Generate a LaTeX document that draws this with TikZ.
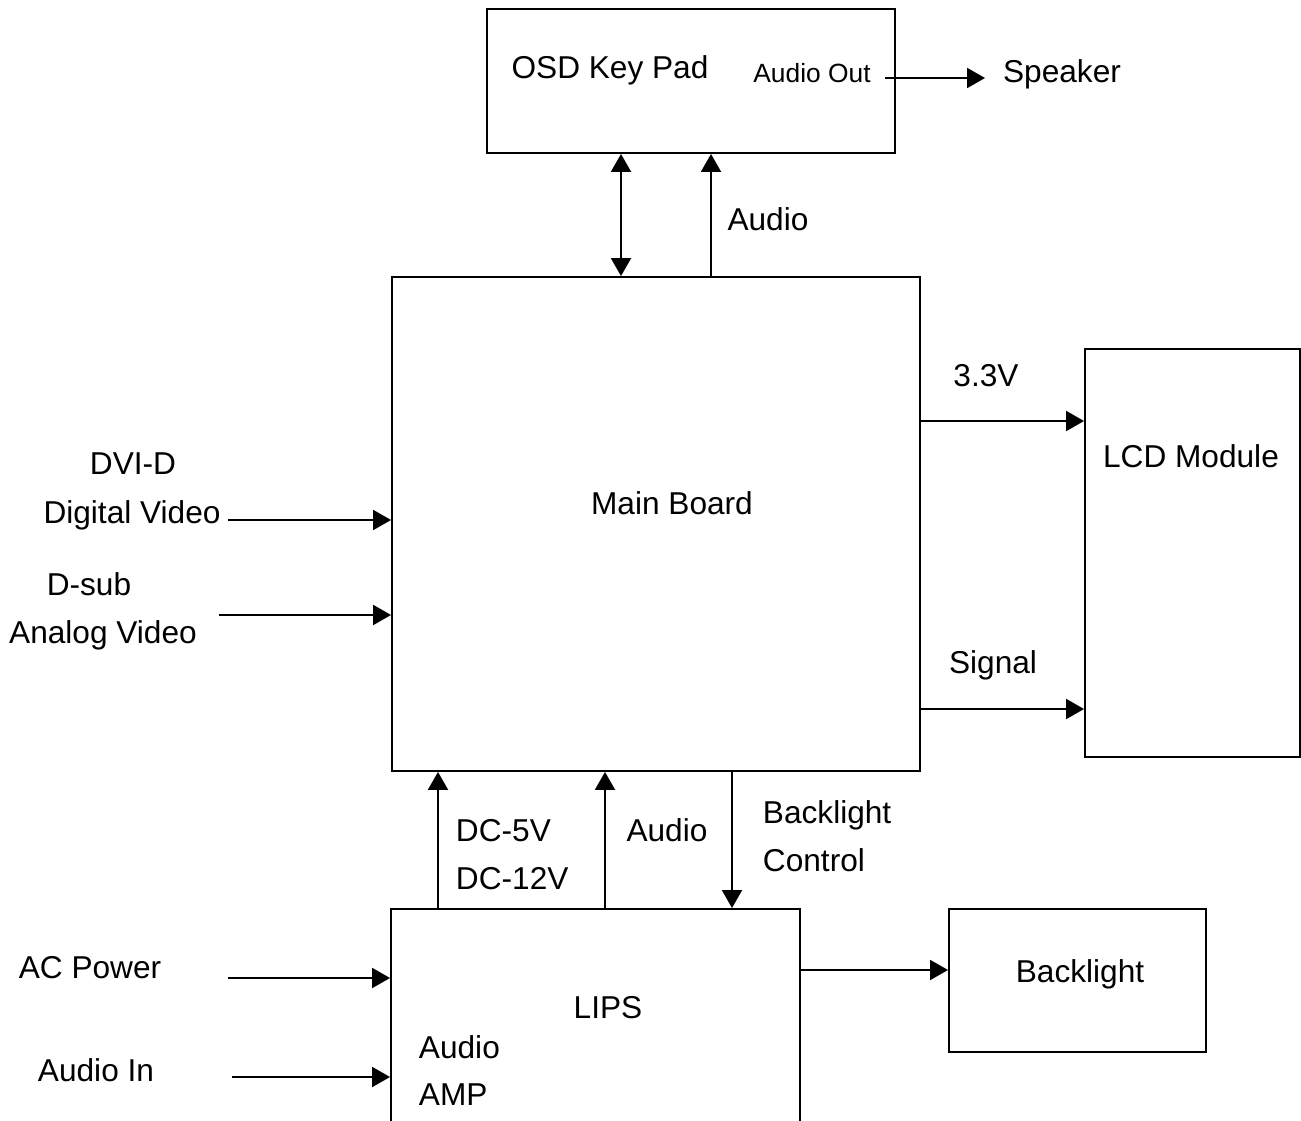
\documentclass[tikz,border=0pt]{standalone}
\usepackage{fontspec}
\setmainfont{Liberation Sans}
\usetikzlibrary{arrows.meta}

\tikzset{
  blk/.style={draw, inner sep=0pt},
  lbl/.style={font=\fontsize{18}{21}\selectfont, inner sep=0pt, anchor=base},
  lblw/.style={lbl, anchor=base west},
  small/.style={font=\fontsize{15}{18}\selectfont, inner sep=0pt, anchor=base}
}

\begin{document}
\begin{tikzpicture}[x=0.02cm, y=-0.02cm, line width=1.1pt,
    >={Triangle[length=0.36cm, width=0.4cm]}]
    \useasboundingbox (0,0) rectangle (1301,1121);
    \clip (0,0) rectangle (1301,1121);

    % blocks
    \node[blk, minimum width=8.16cm, minimum height=2.88cm] (osd) at (691,81) {};
    \node[blk, minimum width=10.56cm, minimum height=9.88cm] (main) at (656,524) {};
    \node[blk, minimum width=4.3cm, minimum height=8.16cm] (lcd) at (1192.5,553) {};
    \node[blk, minimum width=5.14cm, minimum height=2.86cm] (bl) at (1077.5,980.5) {};
    \node[blk, minimum width=8.18cm, minimum height=5cm] (lips) at (595.5,1034) {};

    % texts
    \node[lbl] (osdlbl) at (610,79) {OSD Key Pad};
    \node[small] (aout) at (812,83) {Audio Out};
    \node[lbl] (spk) at (1062,83) {Speaker};
    \node[lbl] (audtop) at (768,231) {Audio};
    \node[lbl] (mainlbl) at (672,514) {Main Board};
    \node[lbl] (lcdlbl) at (1191,468) {LCD Module};
    \node[lbl] (v33lbl) at (986,387) {3.3V};
    \node[lbl] (siglbl) at (993,673) {Signal};
    \node[lbl] (dvid) at (133,475) {DVI-D};
    \node[lbl] (digvid) at (132,523) {Digital Video};
    \node[lbl] (dsub) at (89,595) {D-sub};
    \node[lbl] (anavid) at (103,643) {Analog Video};
    \node[lblw] (dc5) at (455,841) {DC-5V};
    \node[lblw] (dc12) at (455,889) {DC-12V};
    \node[lbl] (audmid) at (667,841) {Audio};
    \node[lblw] (blc1) at (762,823) {Backlight};
    \node[lblw] (blc2) at (762,871) {Control};
    \node[lbl] (acpow) at (90,978) {AC Power};
    \node[lbl] (bllbl) at (1080,982) {Backlight};
    \node[lbl] (lipslbl) at (608,1018) {LIPS};
    \node[lblw] (amp1) at (418,1058) {Audio};
    \node[lblw] (amp2) at (418,1105) {AMP};
    \node[lbl] (audin) at (96,1081) {Audio In};

    % connector positions
    \coordinate (kx) at (621,0);
    \coordinate (ax) at (711,0);
    \coordinate (aoutR) at (885,78);
    \coordinate (spkin) at (985,78);
    \coordinate (dviL) at (228,520);
    \coordinate (dsubL) at (219,615);
    \coordinate (v33) at (0,421);
    \coordinate (sig) at (0,709);
    \coordinate (dcx) at (438,0);
    \coordinate (amx) at (605,0);
    \coordinate (blx) at (732,0);
    \coordinate (bly) at (0,970);
    \coordinate (acL) at (228,978);
    \coordinate (ainL) at (232,1077);

    % connectors
    \draw[<->] (osd.south -| kx) -- (main.north -| kx);
    \draw[->] (main.north -| ax) -- (osd.south -| ax);
    \draw[->] (aoutR) -- (spkin);
    \draw[->] (dviL) -- (dviL -| main.west);
    \draw[->] (dsubL) -- (dsubL -| main.west);
    \draw[->] (main.east |- v33) -- (lcd.west |- v33);
    \draw[->] (main.east |- sig) -- (lcd.west |- sig);
    \draw[->] (lips.north -| dcx) -- (main.south -| dcx);
    \draw[->] (lips.north -| amx) -- (main.south -| amx);
    \draw[->] (main.south -| blx) -- (lips.north -| blx);
    \draw[->] (lips.east |- bly) -- (bl.west |- bly);
    \draw[->] (acL) -- (acL -| lips.west);
    \draw[->] (ainL) -- (ainL -| lips.west);
\end{tikzpicture}
\end{document}
